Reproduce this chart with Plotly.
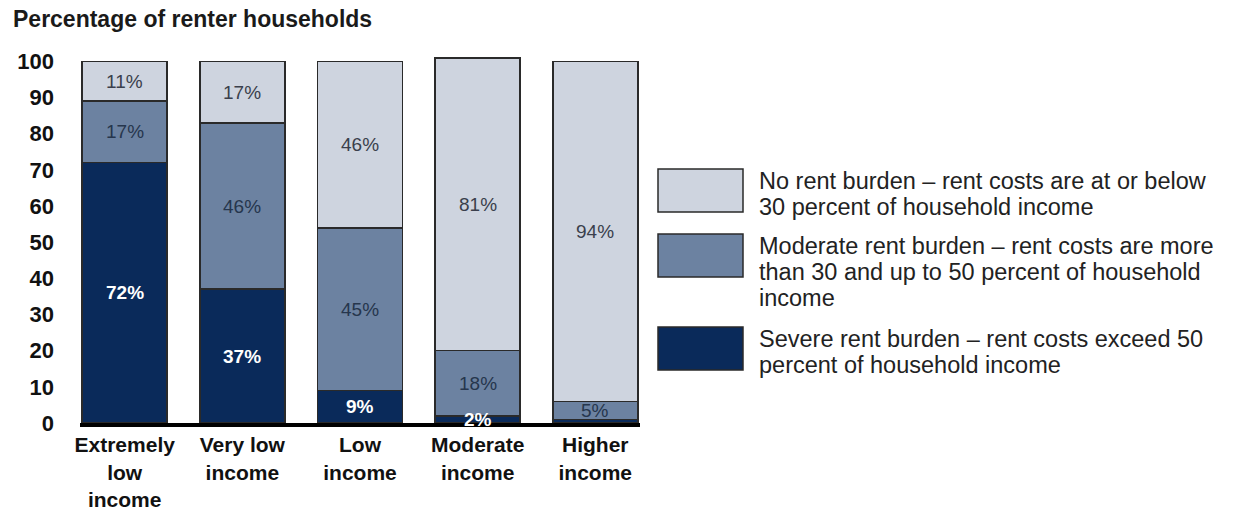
import plotly.graph_objects as go

categories = ["Extremely<br>low<br>income", "Very low<br>income", "Low<br>income", "Moderate<br>income", "Higher<br>income"]
severe = [72, 37, 9, 2, 1]
moderate = [17, 46, 45, 18, 5]
no_burden = [11, 17, 46, 81, 94]
severe_labels = ["72%", "37%", "9%", "2%", ""]
moderate_labels = ["17%", "46%", "45%", "18%", "5%"]
no_labels = ["11%", "17%", "46%", "81%", "94%"]
y_ticks = list(range(0, 101, 10))
legend_lines = [
    ["No rent burden – rent costs are at or below", "30 percent of household income"],
    ["Moderate rent burden – rent costs are more", "than 30 and up to 50 percent of household", "income"],
    ["Severe rent burden – rent costs exceed 50", "percent of household income"],
]

C_LIGHT = "#CED4DF"
C_MED = "#6C82A1"
C_DARK = "#0A2A5A"
FONT = "Liberation Sans, Arial, sans-serif"

W, H = 1233, 511
L, R = 80, 640
T, B = 56, 423

fig = go.Figure()
series = [
    (severe, C_DARK, "Severe rent burden"),
    (moderate, C_MED, "Moderate rent burden"),
    (no_burden, C_LIGHT, "No rent burden"),
]
for vals, col, name in series:
    fig.add_trace(go.Bar(
        x=categories, y=vals, name=name, marker_color=col,
        marker_line=dict(color="#2a2a2a", width=1.5), showlegend=False,
    ))

annotations = []
for i, cat in enumerate(categories):
    base = 0
    for vals, labels, color, bold in [
        (severe, severe_labels, "white", True),
        (moderate, moderate_labels, "#26364D", False),
        (no_burden, no_labels, "#3A3F4C", False),
    ]:
        mid = base + vals[i] / 2
        base += vals[i]
        if labels[i]:
            annotations.append(dict(
                x=cat, y=mid, xref="x", yref="y", showarrow=False,
                text=("<b>%s</b>" % labels[i]) if bold else labels[i],
                font=dict(family=FONT, size=19, color=color),
                xanchor="center", yanchor="middle",
            ))


def px_x(p):
    return (p - L) / (R - L)


def px_y(p):
    return (B - p) / (B - T)


shapes = []
box_tops = [169, 234, 327]
box_colors = [C_LIGHT, C_MED, C_DARK]
for top, col, lines in zip(box_tops, box_colors, legend_lines):
    shapes.append(dict(
        type="rect", xref="paper", yref="paper",
        x0=px_x(658), x1=px_x(743), y0=px_y(top + 43), y1=px_y(top),
        fillcolor=col, line=dict(color="#2a2a2a", width=1.5),
    ))
    for j, line in enumerate(lines):
        annotations.append(dict(
            x=px_x(757), y=px_y(top + 12 + 26 * j), xref="paper", yref="paper",
            text=line, showarrow=False, align="left",
            xanchor="left", yanchor="middle",
            font=dict(family=FONT, size=23.5, color="#222222"),
        ))

annotations.append(dict(
    x=px_x(11), y=px_y(19), xref="paper", yref="paper",
    text="<b>Percentage of renter households</b>", showarrow=False,
    xanchor="left", yanchor="middle",
    font=dict(family=FONT, size=23, color="#1a1a1a"),
))

fig.update_layout(
    barmode="stack",
    bargap=0.277,
    width=W, height=H,
    margin=dict(l=L, r=W - R, t=T, b=H - B, autoexpand=False),
    paper_bgcolor="white", plot_bgcolor="white",
    annotations=annotations, shapes=shapes,
    font=dict(family=FONT, color="#111111"),
)
fig.update_xaxes(
    range=[-0.38, 4.38], automargin=False,
    showline=True, linecolor="#000000", linewidth=4,
    tickfont=dict(family=FONT, size=21, color="#111111", weight="bold"),
    ticks="", showgrid=False, ticklabelstandoff=0,
)
fig.update_yaxes(
    range=[0, 101.5], automargin=False,
    tickvals=y_ticks, ticktext=["<b>%d</b>" % v for v in y_ticks],
    tickfont=dict(family=FONT, size=22, color="#111111"),
    showgrid=False, zeroline=False, showline=False, ticks="",
    ticklabelstandoff=25,
)

fig.write_html("out.html")
